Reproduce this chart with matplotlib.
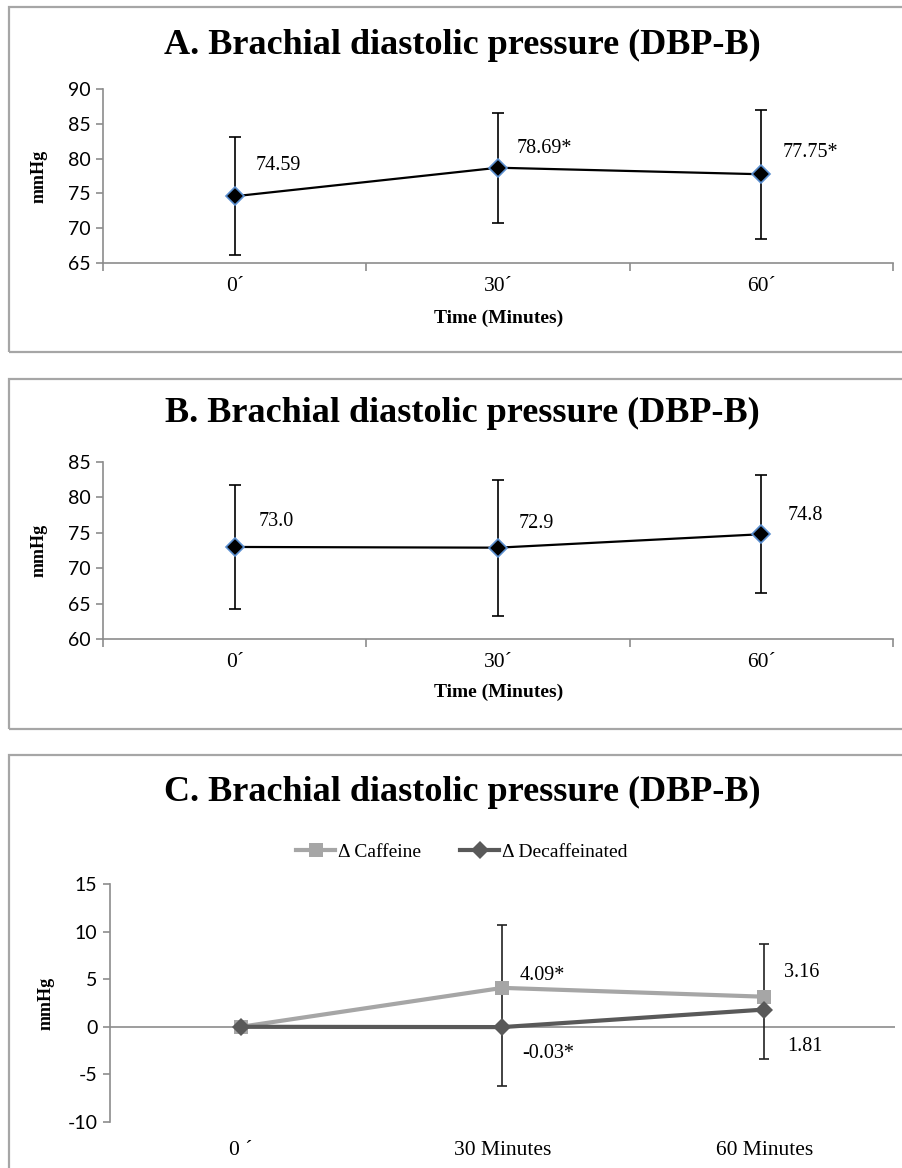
import matplotlib
matplotlib.use('Agg')
import matplotlib.pyplot as plt
from matplotlib.patches import Rectangle

plt.rcParams["axes.unicode_minus"] = False

# panel A / B data
time_ab = ["0´", "30´", "60´"]
a_mean = [74.59, 78.69, 77.75]
a_err = [8.5, 7.9, 9.3]
a_text = ["74.59", "78.69*", "77.75*"]

b_mean = [73.0, 72.9, 74.8]
b_err = [8.8, 9.6, 8.3]
b_text = ["73.0", "72.9", "74.8"]

# panel C data (change from baseline)
time_c = ["0 ´", "30 Minutes", "60 Minutes"]
caff = [0, 4.09, 3.16]
caff_err_up = [0, 6.6, 5.55]
caff_text = ["", "4.09*", "3.16"]
decaf = [0, -0.03, 1.81]
decaf_err_down = [0, 6.2, 5.2]
decaf_text = ["", "-0.03*", "1.81"]

W, H = 903, 1168
SERIF = "Liberation Serif"
SANS = "Lato"
GREY = "#8c8c8c"

fig = plt.figure(figsize=(W / 100, H / 100), dpi=100)


def px_axes(left, top, right, bottom):
    return fig.add_axes([left / W, 1 - bottom / H, (right - left) / W, (bottom - top) / H])


def box(top, bottom):
    fig.add_artist(Rectangle((9 / W, 1 - bottom / H), 1.0, (bottom - top) / H,
                             transform=fig.transFigure, fill=False,
                             edgecolor="#a6a6a6", linewidth=1.6))


def label(ax, i, y, t, dx, dy):
    # dx, dy in pixels, dy measured downward
    ax.annotate(t, (i, y), xytext=(dx * 0.72, -dy * 0.72), textcoords="offset points",
                ha="left", va="center", fontfamily=SERIF, fontsize=14.5)


def style_axes(ax, ylim, ystep):
    ax.set_xlim(-0.5, 2.5)
    ax.set_ylim(*ylim)
    ax.set_yticks(range(ylim[0], ylim[1] + 1, ystep))
    for s in ["top", "right"]:
        ax.spines[s].set_visible(False)
    for s in ["left", "bottom"]:
        ax.spines[s].set_color(GREY)
        ax.spines[s].set_linewidth(1.2)
    ax.tick_params(axis="y", direction="out", length=5, color=GREY, width=1.2, pad=4)
    for lab in ax.get_yticklabels():
        lab.set_fontfamily(SANS)
        lab.set_fontsize(14)
    ax.set_ylabel("mmHg", fontfamily=SERIF, fontweight="bold", fontsize=13)
    ax.yaxis.set_label_coords(-0.07, 0.5)


def panel_ab(ax, mean, err, texts, ylim, offsets, title, title_y, xlabel_y):
    x = range(len(mean))
    ax.errorbar(x, mean, yerr=err, fmt="none", ecolor="black", elinewidth=1.2,
                capsize=4.5, capthick=1.2, zorder=2)
    ax.plot(x, mean, color="black", linewidth=1.6, marker="D", markersize=9,
            markerfacecolor="black", markeredgecolor="#5b8fd0", markeredgewidth=1.2,
            zorder=3)
    style_axes(ax, ylim, 5)
    ax.set_xticks([-0.5, 0.5, 1.5, 2.5])
    ax.set_xticklabels([])
    ax.set_xticks(list(x), minor=True)
    ax.set_xticklabels(time_ab, minor=True, fontfamily=SERIF, fontsize=15.5)
    ax.tick_params(axis="x", which="major", direction="out", length=6, color=GREY, width=1.2)
    ax.tick_params(axis="x", which="minor", length=0, pad=10)
    for i, t in enumerate(texts):
        label(ax, i, mean[i], t, *offsets[i])
    fig.text(462 / W, 1 - title_y / H, title, ha="center", va="center",
             fontfamily=SERIF, fontweight="bold", fontsize=26)
    fig.text(499 / W, 1 - xlabel_y / H, "Time (Minutes)", ha="center", va="center",
             fontfamily=SERIF, fontweight="bold", fontsize=14)


# ---- panel A
box(7, 352)
axA = px_axes(103, 89, 893, 263)
panel_ab(axA, a_mean, a_err, a_text, (65, 90), [(21, -31), (19, -19), (21, -22)],
         "A. Brachial diastolic pressure (DBP-B)", 45, 318)

# ---- panel B
box(379, 729)
axB = px_axes(103, 462, 893, 639)
panel_ab(axB, b_mean, b_err, b_text, (60, 85), [(24, -25), (21, -24), (26, -19)],
         "B. Brachial diastolic pressure (DBP-B)", 413, 692)

# ---- panel C
box(755, 1200)
axC = px_axes(110, 884, 895, 1122)
xc = list(range(len(caff)))
# caffeine bar runs from its upper end down to the decaf point, decaf bar goes downward
caff_low = [c - d for c, d in zip(caff, decaf)]
axC.errorbar(xc[1:], caff[1:], yerr=[caff_low[1:], caff_err_up[1:]], fmt="none",
             ecolor="#222222", elinewidth=1.2, capsize=3.8, capthick=1.2, zorder=2)
axC.errorbar(xc[1:], decaf[1:], yerr=[decaf_err_down[1:], [0] * 2], fmt="none",
             ecolor="#222222", elinewidth=1.2, capsize=3.8, capthick=1.2, zorder=2)
axC.axhline(0, color=GREY, linewidth=1.2, zorder=1)
axC.plot(xc, caff, color="#a6a6a6", linewidth=3, marker="s", markersize=10.5,
         markeredgewidth=0, zorder=3, label="Δ Caffeine")
axC.plot(xc, decaf, color="#595959", linewidth=3, marker="D", markersize=9,
         markeredgewidth=0, zorder=4, label="Δ Decaffeinated")
style_axes(axC, (-10, 15), 5)
axC.spines["bottom"].set_visible(False)
axC.set_xticks(xc)
axC.set_xticklabels(time_c, fontfamily=SERIF, fontsize=15.5)
axC.tick_params(axis="x", length=0, pad=14)

c_offsets = {("c", 1): (17, -12), ("c", 2): (20, -24), ("d", 1): (20, 26), ("d", 2): (23, 37)}
for key, vals, texts in [("c", caff, caff_text), ("d", decaf, decaf_text)]:
    for i, t in enumerate(texts):
        if t:
            label(axC, i, vals[i], t, *c_offsets[(key, i)])

fig.text(462 / W, 1 - 792 / H, "C. Brachial diastolic pressure (DBP-B)", ha="center",
         va="center", fontfamily=SERIF, fontweight="bold", fontsize=26)
handles, labels = axC.get_legend_handles_labels()
fig.legend(handles, labels, loc="center", bbox_to_anchor=(462 / W, 1 - 852 / H), ncol=2,
           frameon=False, prop={"family": SERIF, "size": 14}, handlelength=2.0,
           handletextpad=0.15, columnspacing=2.0)

fig.savefig("out.png", dpi=100)
